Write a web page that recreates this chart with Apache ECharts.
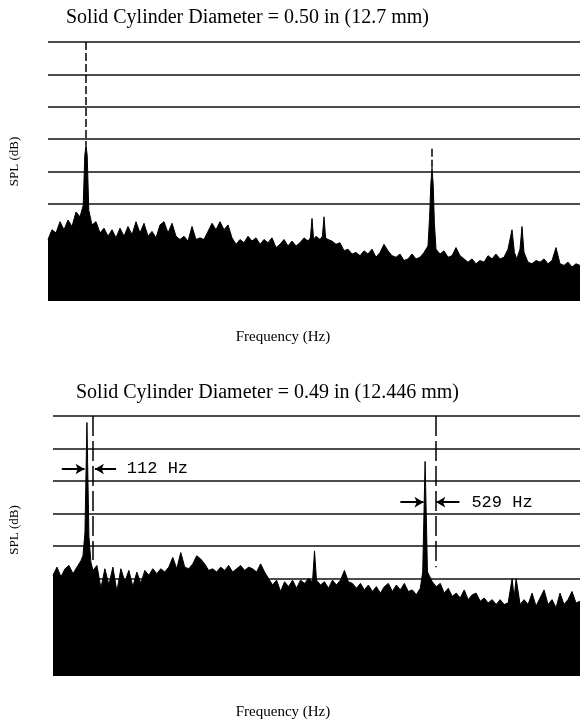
<!DOCTYPE html>
<html><head><meta charset="utf-8">
<script src="https://cdn.jsdelivr.net/npm/echarts@6/dist/echarts.min.js"></script>
<style>html,body{margin:0;padding:0;background:#fff}#c{width:580px;height:723px}</style>
</head><body><div id="c"></div>
<script>
// ---- text ----
const titleTop = 'Solid Cylinder Diameter = 0.50 in (12.7 mm)';
const titleBottom = 'Solid Cylinder Diameter = 0.49 in (12.446 mm)';
const xAxisName = 'Frequency (Hz)';
const yAxisName = 'SPL (dB)';
const annotationText = ['112 Hz', '529 Hz'];

// ---- axes (SPL in grid divisions, frequency in Hz) ----
const yLevels = [0, 1, 2, 3, 4, 5, 6, 7, 8];
const gridLineLevels = [3, 4, 5, 6, 7, 8];
const topFreqRange = [60, 725];
const botFreqRange = [70, 730];

// ---- top spectrum (D = 0.50 in) ----
const topFreq = [60,65,70,75,80,85,90,95,100,104,106,107.5,109,111,115,120,125,130,135,140,145,150,155,160,165,170,175,180,185,190,195,200,205,210,215,220,225,230,235,240,245,250,255,260,265,270,275,280,285,290,295,300,305,310,315,320,325,330,335,340,345,350,355,360,365,370,375,380,385,388,390,392,395,400,403,405,407,410,415,420,425,430,435,440,445,450,455,460,465,470,475,480,485,490,495,500,505,510,515,520,525,530,535,537,538.5,540,541.5,543,545,550,555,560,565,570,575,580,585,590,595,600,605,610,615,620,625,630,635,640,643,646,650,652.5,655,660,665,670,675,680,685,690,695,700,705,710,715,720,725];
const topSPL = [1.9,2.2,2.1,2.45,2.2,2.5,2.3,2.75,2.6,2.95,4.5,4.8,4.5,2.8,2.35,2.45,2.1,2.25,2.0,2.2,1.95,2.25,2.0,2.3,2.05,2.45,2.1,2.4,2.0,2.15,1.95,2.35,2.45,2.1,2.4,2.0,1.9,2.0,1.85,2.3,1.9,1.95,1.9,2.15,2.4,2.2,2.45,2.2,2.35,1.95,1.75,1.9,1.8,2.0,1.85,1.95,1.75,1.9,1.8,1.95,1.65,1.75,1.9,1.7,1.85,1.7,1.8,1.95,1.85,1.95,2.55,1.9,2.0,1.9,2.0,2.6,1.95,1.9,1.85,1.75,1.8,1.55,1.6,1.45,1.5,1.4,1.55,1.45,1.6,1.35,1.5,1.75,1.55,1.4,1.35,1.45,1.25,1.3,1.45,1.3,1.35,1.5,1.7,2.6,3.6,4.1,3.6,2.4,1.6,1.45,1.55,1.35,1.4,1.65,1.4,1.3,1.2,1.3,1.15,1.25,1.2,1.4,1.3,1.45,1.3,1.35,1.6,2.2,1.5,1.3,1.6,2.3,1.5,1.2,1.15,1.25,1.2,1.3,1.15,1.25,1.65,1.15,1.1,1.2,1.05,1.15,1.1];
// dashed guide lines: [frequency, from level, to level]
const topGuides = [[107.5, 8, 4.8], [540, 4.7, 4.1]];

// ---- bottom spectrum (D = 0.49 in) ----
const botFreq = [70,75,80,85,90,95,100,105,107.5,110,112.5,115,117.5,120,125,130,135,140,145,150,155,160,165,170,175,180,185,190,195,200,205,210,215,220,225,230,235,240,245,250,255,260,265,270,275,280,285,290,295,300,305,310,315,320,325,330,335,340,345,350,355,360,365,370,375,380,385,390,395,397.5,400,405,410,415,420,425,430,435,440,445,450,455,460,465,470,475,480,485,490,495,500,505,510,515,520,525,530,533,536,539,545,550,555,560,565,570,575,580,585,590,595,600,605,610,615,620,625,630,635,640,645,647.5,650,655,660,665,670,675,680,685,690,695,700,705,710,715,720,725,730];
const botSPL = [3.1,3.35,3.05,3.3,3.4,3.15,3.35,3.55,3.7,4.4,7.8,4.3,3.5,3.25,3.4,2.7,3.3,2.8,3.35,2.6,3.3,2.9,3.25,2.75,3.2,2.85,3.25,3.1,3.3,3.15,3.3,3.2,3.35,3.65,3.3,3.8,3.35,3.3,3.45,3.7,3.6,3.45,3.25,3.3,3.2,3.35,3.25,3.4,3.2,3.3,3.4,3.25,3.35,3.3,3.2,3.45,3.2,3.0,2.8,2.95,2.6,2.9,2.75,2.95,2.7,2.95,2.85,3.0,2.9,3.85,2.95,2.8,2.9,2.7,2.95,2.8,2.95,3.25,2.9,2.85,2.7,2.85,2.65,2.8,2.6,2.75,2.55,2.75,2.85,2.6,2.8,2.65,2.85,2.6,2.65,2.5,2.7,3.2,6.6,3.2,2.9,2.75,2.85,2.55,2.7,2.45,2.55,2.4,2.65,2.35,2.5,2.55,2.3,2.4,2.25,2.35,2.2,2.35,2.2,2.25,3.0,2.4,3.0,2.2,2.35,2.2,2.55,2.15,2.4,2.65,2.2,2.35,2.1,2.55,2.2,2.35,2.6,2.25,2.3];
const botGuides = [[120, 8, 3.57], [549, 8, 3.35]];
// arrows: [from freq, to freq, level]
const botArrows = [[81, 109.5, 6.37], [149, 122.5, 6.37], [505, 534, 5.35], [579, 550, 5.35]];
// annotation anchor: [freq, level]
const botLabelPos = [[162.5, 6.37], [594, 5.35]];

const splitColors = yLevels.map(v => gridLineLevels.includes(v) ? '#111' : 'rgba(0,0,0,0)');
const serif = 'Liberation Serif';

function pairs(f, v) { return f.map((x, i) => [x, v[i]]); }
function guideLines(g, dash) {
  return g.map(d => [
    { coord: [d[0], d[1]], lineStyle: { type: dash, width: 1.5, color: '#000' } },
    { coord: [d[0], d[2]] }
  ]);
}
function arrowLines(a) {
  return a.map(d => [
    { coord: [d[0], d[2]], symbol: 'none', lineStyle: { type: 'solid', width: 2, color: '#000' } },
    { coord: [d[1], d[2]], symbol: 'arrow', symbolSize: [8, 9] }
  ]);
}
function xAx(idx, range, padRight) {
  return {
    type: 'value', gridIndex: idx, min: range[0], max: range[1],
    axisLine: { show: false }, axisTick: { show: false }, axisLabel: { show: false }, splitLine: { show: false },
    name: xAxisName, nameLocation: 'middle', nameGap: 29,
    nameTextStyle: { fontFamily: serif, fontSize: 15, color: '#000', padding: [0, padRight, 0, 0] }
  };
}
function yAx(idx, gap, padLeft) {
  return {
    type: 'value', gridIndex: idx, min: 0, max: 8, interval: 1,
    axisLine: { show: false }, axisTick: { show: false }, axisLabel: { show: false },
    splitLine: { show: true, showMinLine: true, showMaxLine: true, lineStyle: { color: splitColors, width: 1.6 } },
    name: yAxisName, nameLocation: 'middle', nameGap: gap,
    nameTextStyle: { fontFamily: serif, fontSize: 13, color: '#000', padding: [0, 0, 0, padLeft] }
  };
}
const spectrumStyle = {
  type: 'line', symbol: 'none', silent: true, animation: false,
  lineStyle: { color: '#000', width: 1 },
  areaStyle: { color: '#000', opacity: 1 }
};

const chart = echarts.init(document.getElementById('c'), null, { renderer: 'canvas' });
chart.setOption({
  animation: false,
  backgroundColor: '#fff',
  title: [
    { text: titleTop, left: 66, top: 8, padding: 0, textStyle: { fontFamily: serif, fontSize: 20, fontWeight: 'normal', color: '#000' } },
    { text: titleBottom, left: 76, top: 383, padding: 0, textStyle: { fontFamily: serif, fontSize: 20, fontWeight: 'normal', color: '#000' } }
  ],
  grid: [
    { left: 48, right: 0, top: 42, height: 259, containLabel: false, outerBoundsMode: 'none' },
    { left: 53, right: 0, top: 416, height: 260, containLabel: false, outerBoundsMode: 'none' }
  ],
  xAxis: [xAx(0, topFreqRange, 62), xAx(1, botFreqRange, 67)],
  yAxis: [yAx(0, 26.5, 20), yAx(1, 31.5, 32)],
  series: [
    Object.assign({}, spectrumStyle, {
      xAxisIndex: 0, yAxisIndex: 0, data: pairs(topFreq, topSPL),
      markLine: { silent: true, symbol: ['none', 'none'], label: { show: false }, animation: false,
        data: guideLines(topGuides, [8, 3]) }
    }),
    Object.assign({}, spectrumStyle, {
      xAxisIndex: 1, yAxisIndex: 1, data: pairs(botFreq, botSPL),
      markLine: { silent: true, symbol: ['none', 'none'], label: { show: false }, animation: false,
        data: guideLines(botGuides, [20, 5]).concat(arrowLines(botArrows)) },
      markPoint: { silent: true, symbol: 'circle', symbolSize: 0, animation: false,
        label: { show: true, position: 'right', distance: 0, fontFamily: 'Liberation Mono', fontSize: 17, color: '#000', formatter: p => p.name },
        data: botLabelPos.map((p, i) => ({ name: annotationText[i], coord: p })) }
    })
  ]
});
</script></body></html>
